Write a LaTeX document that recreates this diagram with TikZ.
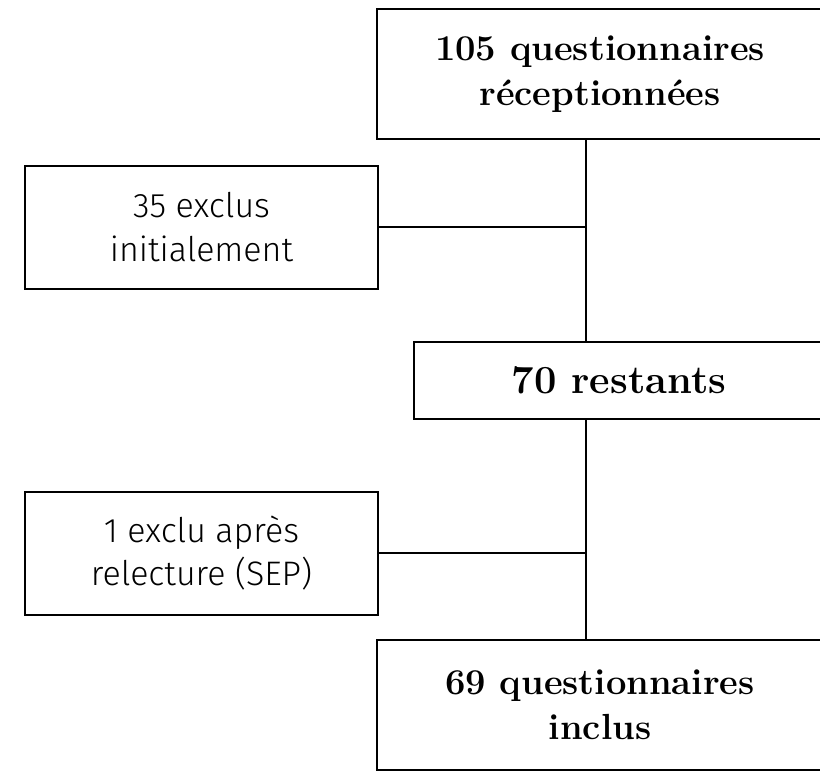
\documentclass[tikz,border=0pt]{standalone}
\usepackage{fontspec}
\newfontfamily\lightsf{Fira Sans Light}

\begin{document}
\begin{tikzpicture}[x=0.03cm, y=-0.03cm, line width=1.7pt,
    bigbox/.style={draw, align=center, inner sep=0pt, minimum width=13.4cm,
        minimum height=3.9cm, font=\fontsize{31}{38.5}\selectfont\bfseries},
    midbox/.style={draw, align=center, inner sep=0pt, minimum width=12.3cm,
        minimum height=2.31cm, font=\fontsize{34}{40}\selectfont\bfseries},
    exbox/.style={draw, align=center, inner sep=0pt, minimum width=10.59cm,
        minimum height=3.69cm, font=\fontsize{29}{37.4}\selectfont\lightsf}]
    \useasboundingbox (0,0) rectangle (820,771);

    \coordinate (axe) at (586,0);

    \node[bigbox] (recu) at (600,74) {105 questionnaires\\réceptionnées};
    \node[exbox] (exinit) at (201.5,227) {35 exclus\\initialement};
    \node[midbox] (reste) at (619,380) {70 restants};
    \node[exbox] (exrel) at (201.5,553) {1 exclu après\\relecture (SEP)};
    \node[bigbox] (inclus) at (600,705) {69 questionnaires\\inclus};

    \draw (recu.south -| axe) -- (reste.north -| axe);
    \draw (reste.south -| axe) -- (inclus.north -| axe);
    \draw (exinit.east) -- (exinit.east -| axe);
    \draw (exrel.east) -- (exrel.east -| axe);
\end{tikzpicture}
\end{document}
